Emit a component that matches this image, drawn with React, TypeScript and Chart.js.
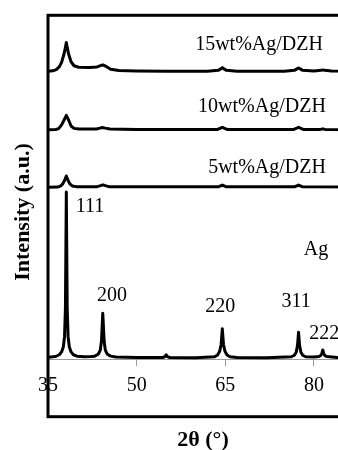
import React, { useEffect, useRef } from 'react';
import { Chart, registerables } from 'chart.js';

Chart.register(...registerables);

const FONT = '"Liberation Serif", "Times New Roman", serif';

const xTicks = [35, 50, 65, 80];

const agX = [35, 36.3, 36.9, 37.3, 37.6, 37.8, 37.95, 38.1, 38.25, 38.4, 38.6, 38.9, 39.3, 39.9, 41.2, 42.3, 42.9, 43.5, 43.85, 44.05, 44.27, 44.5, 44.7, 45.05, 45.6, 46.5, 50, 54.4, 54.8, 55, 55.2, 55.6, 60, 63.2, 63.7, 64.05, 64.3, 64.5, 64.7, 64.95, 65.3, 65.8, 67, 72, 76.2, 76.7, 77.0, 77.22, 77.4, 77.58, 77.8, 78.1, 78.6, 80, 80.8, 81.15, 81.35, 81.5, 81.65, 81.85, 82.2, 84, 90];
const agY = [18, 25, 40, 65, 110, 200, 450, 1460, 450, 200, 110, 65, 40, 28, 22, 24, 28, 45, 80, 160, 402, 160, 80, 45, 28, 20, 17, 16, 24, 40, 24, 16, 15, 22, 38, 70, 130, 266, 130, 70, 38, 22, 17, 15, 23, 36, 62, 120, 236, 120, 62, 36, 23, 20, 24, 34, 52, 82, 52, 34, 24, 17, 15];

const w5X = [35, 36.6, 37.1, 37.5, 37.8, 38.1, 38.4, 38.7, 39.1, 39.8, 43.3, 43.9, 44.3, 44.7, 45.3, 63.8, 64.5, 65.2, 76.7, 77.4, 78.1, 90];
const w5Y = [1500, 1502, 1510, 1530, 1560, 1599, 1560, 1530, 1512, 1506, 1506, 1515, 1522, 1515, 1506, 1504, 1520, 1504, 1504, 1520, 1504, 1503];

const w10X = [35, 36.3, 36.8, 37.3, 37.7, 38.1, 38.5, 38.9, 39.4, 40.3, 43.2, 43.8, 44.2, 44.7, 45.5, 50, 63.7, 64.2, 64.5, 64.8, 65.3, 76.6, 77.1, 77.4, 77.7, 78.2, 81.1, 81.5, 81.9, 90];
const w10Y = [2002, 2004, 2012, 2045, 2085, 2127, 2085, 2035, 2014, 2008, 2008, 2016, 2022, 2016, 2008, 2004, 2005, 2016, 2024, 2016, 2005, 2005, 2016, 2024, 2016, 2005, 2005, 2010, 2005, 2003];

const w15X = [35, 35.8, 36.4, 36.9, 37.3, 37.7, 37.95, 38.1, 38.25, 38.5, 38.9, 39.4, 40.2, 42, 43.3, 43.9, 44.3, 44.8, 45.6, 47, 50, 55, 62, 63.8, 64.3, 64.5, 64.7, 65.2, 67, 75, 76.7, 77.2, 77.4, 77.6, 78.1, 80, 81.2, 81.5, 81.8, 83, 90];
const w15Y = [2513, 2516, 2526, 2550, 2590, 2660, 2720, 2762, 2720, 2660, 2595, 2560, 2547, 2545, 2550, 2562, 2567, 2555, 2530, 2518, 2514, 2513, 2513, 2520, 2535, 2544, 2535, 2520, 2513, 2513, 2520, 2535, 2541, 2535, 2520, 2514, 2520, 2524, 2520, 2514, 2512];

const labelTexts = ['15wt%Ag/DZH', '10wt%Ag/DZH', '5wt%Ag/DZH', '111', '200', '220', '311', '222', 'Ag'];
const labelX = [59.9, 60.4, 62.1, 39.7, 43.3, 61.6, 74.5, 79.2, 78.3];
const labelY = [2742, 2201, 1669, 1329, 553, 461, 505, 221, 954];

const yTitle = 'Intensity (a.u.)';
const xTitle = '2θ (°)';

const toPoints = (xs: number[], ys: number[]) => xs.map((x, i) => ({ x, y: ys[i] }));

const overlay = {
  id: 'overlay',
  afterDatasetsDraw(chart: any) {
    const { ctx, scales } = chart;
    ctx.save();
    ctx.fillStyle = '#000';
    ctx.font = `20px ${FONT}`;
    ctx.textAlign = 'left';
    ctx.textBaseline = 'middle';
    labelTexts.forEach((t, i) => {
      ctx.fillText(t, scales.x.getPixelForValue(labelX[i]), scales.y.getPixelForValue(labelY[i]));
    });
    ctx.restore();
  },
  afterDraw(chart: any) {
    const { ctx, chartArea } = chart;
    ctx.save();
    ctx.strokeStyle = '#000';
    ctx.lineWidth = 3;
    ctx.strokeRect(chartArea.left, chartArea.top, chartArea.right - chartArea.left, chartArea.bottom - chartArea.top);
    ctx.fillStyle = '#000';
    ctx.font = `bold 22px ${FONT}`;
    ctx.textAlign = 'center';
    ctx.textBaseline = 'middle';
    ctx.fillText(xTitle, 203, 440);
    ctx.translate(23, 212);
    ctx.rotate(-Math.PI / 2);
    ctx.fillText(yTitle, 0, 0);
    ctx.restore();
  },
};

export default function App() {
  const ref = useRef<HTMLCanvasElement | null>(null);
  useEffect(() => {
    if (!ref.current) return;
    const mk = (xs: number[], ys: number[]) => ({
      data: toPoints(xs, ys),
      borderColor: '#000',
      borderWidth: 3,
      pointRadius: 0,
      fill: false,
      tension: 0,
      borderJoinStyle: 'round' as const,
      borderCapStyle: 'round' as const,
    });
    const chart = new Chart(ref.current, {
      type: 'line',
      data: {
        datasets: [mk(agX, agY), mk(w5X, w5Y), mk(w10X, w10Y), mk(w15X, w15Y)],
      },
      options: {
        animation: false,
        responsive: false,
        devicePixelRatio: 1,
        layout: { padding: { left: 48, top: 15.3, right: 27, bottom: 33.3 } },
        plugins: { legend: { display: false }, tooltip: { enabled: false } },
        scales: {
          x: {
            type: 'linear',
            min: 35,
            max: 90,
            position: { y: 0 } as any,
            afterBuildTicks: (scale: any) => {
              scale.ticks = xTicks.map((v) => ({ value: v }));
            },
            grid: { display: true, drawOnChartArea: false, drawTicks: true, tickLength: 6, color: '#9a9a9a' },
            border: { display: true, color: '#9a9a9a', width: 1 },
            ticks: { color: '#000', padding: 8, maxRotation: 0, font: { family: FONT, size: 20 } },
          },
          y: {
            type: 'linear',
            min: -500,
            max: 3000,
            display: false,
          },
        },
      },
      plugins: [overlay],
    });
    return () => chart.destroy();
  }, []);
  return (
    <div style={{ position: 'absolute', left: 0, top: 0, width: 338, height: 450, overflow: 'hidden', background: '#fff' }}>
      <canvas ref={ref} width={400} height={450} style={{ width: 400, height: 450, display: 'block' }} />
    </div>
  );
}
